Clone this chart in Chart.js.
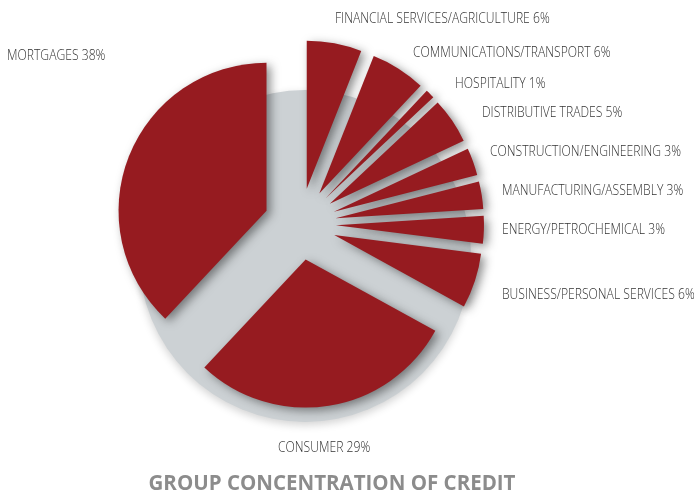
<!DOCTYPE html>
<html>
<head>
<meta charset="utf-8">
<script src="https://cdn.jsdelivr.net/npm/chart.js@4.4.1/dist/chart.umd.min.js"></script>
<style>
  html, body { margin: 0; padding: 0; background: #fff; }
</style>
</head>
<body>
<canvas id="creditChart" width="694" height="494"></canvas>
<script>
const sectors = [
  'FINANCIAL SERVICES/AGRICULTURE',
  'COMMUNICATIONS/TRANSPORT',
  'HOSPITALITY',
  'DISTRIBUTIVE TRADES',
  'CONSTRUCTION/ENGINEERING',
  'MANUFACTURING/ASSEMBLY',
  'ENERGY/PETROCHEMICAL',
  'BUSINESS/PERSONAL SERVICES',
  'CONSUMER',
  'MORTGAGES'
];
const shares = [6, 6, 1, 5, 3, 3, 3, 6, 29, 38];

// caption anchors: left edge, middle line
const captionSpots = [
  [335, 19], [413, 53], [455, 84], [482, 113], [490, 152],
  [502, 191], [502, 230], [502, 295], [278, 448], [7, 56]
];

const EXPLODE = 36;      // how far each slice is pulled out from the centre
const SLICE_RADIUS = 148;
const RED = '#961b20';

// arc that is pushed outward along its mid angle and casts a soft shadow
class ExplodedArc extends Chart.ArcElement {
  static id = 'explodedArc';
  draw(ctx) {
    const mid = (this.startAngle + this.endAngle) / 2;
    ctx.save();
    ctx.translate(Math.cos(mid) * EXPLODE, Math.sin(mid) * EXPLODE);
    ctx.shadowColor = 'rgba(30, 30, 30, 0.5)';
    ctx.shadowBlur = 10;
    ctx.shadowOffsetX = 4;
    ctx.shadowOffsetY = 3;
    super.draw(ctx);
    ctx.restore();
  }
}

class ExplodedPie extends Chart.PieController {
  static id = 'explodedPie';
  static defaults = { dataElementType: 'explodedArc' };
}

Chart.register(ExplodedArc, ExplodedPie);

// grey disc sitting behind the slices
const backdrop = {
  id: 'backdrop',
  beforeDatasetsDraw(chart) {
    const { ctx, chartArea } = chart;
    const cx = (chartArea.left + chartArea.right) / 2 + 5;
    const cy = (chartArea.top + chartArea.bottom) / 2 + 32;
    ctx.save();
    ctx.shadowColor = 'rgba(0, 0, 0, 0.18)';
    ctx.shadowBlur = 8;
    ctx.shadowOffsetY = 3;
    ctx.beginPath();
    ctx.arc(cx, cy, 166, 0, Math.PI * 2);
    ctx.fillStyle = '#ccd1d4';
    ctx.fill();
    ctx.restore();
  }
};

const captions = {
  id: 'captions',
  afterDraw(chart) {
    const { ctx } = chart;
    ctx.save();
    ctx.fillStyle = '#333333';
    ctx.font = '300 15px "Open Sans"';
    ctx.textBaseline = 'middle';
    sectors.forEach((name, i) => {
      const [x, y] = captionSpots[i];
      ctx.save();
      ctx.translate(x, y);
      ctx.scale(0.81, 1);   // narrow, condensed look
      ctx.fillText(name + ' ' + shares[i] + '%', 0, 0);
      ctx.restore();
    });

    ctx.fillStyle = '#8c8c8c';
    ctx.font = 'bold 20.5px "Open Sans"';
    ctx.textAlign = 'center';
    ctx.fillText('GROUP CONCENTRATION OF CREDIT', 332, 484);
    ctx.restore();
  }
};

new Chart(document.getElementById('creditChart'), {
  type: 'explodedPie',
  data: {
    labels: sectors,
    datasets: [{
      data: shares,
      backgroundColor: RED,
      borderWidth: 0,
      radius: SLICE_RADIUS
    }]
  },
  options: {
    responsive: false,
    animation: false,
    events: [],
    layout: { padding: { left: 0, right: 94, top: 0, bottom: 46 } },
    plugins: {
      legend: { display: false },
      tooltip: { enabled: false }
    }
  },
  plugins: [backdrop, captions]
});
</script>
</body>
</html>
